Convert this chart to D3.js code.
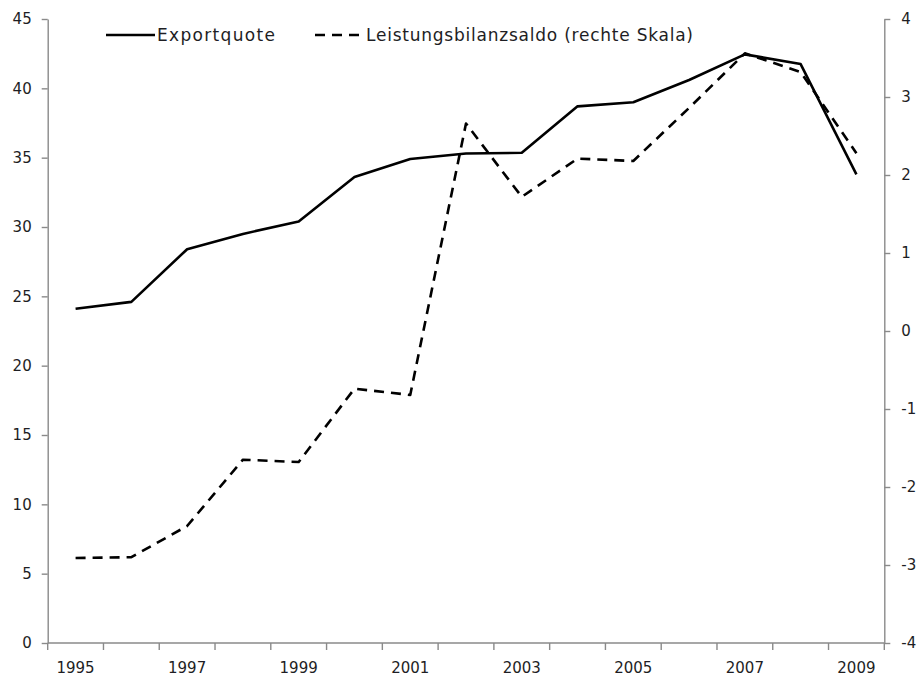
<!DOCTYPE html>
<meta charset="UTF-8">
<style>
body { margin: 0; background: #fff; }
svg text { font-family: "DejaVu Sans", sans-serif; fill: #1e1e24; }
.axis path, .axis line { stroke: #8a8a8a; stroke-width: 1.4px; }
.line { fill: none; stroke: #000; stroke-width: 2.6px; stroke-linejoin: round; }
</style>
<body>
<script src="https://d3js.org/d3.v7.min.js"></script>
<script>

// data
var years = [1995, 1996, 1997, 1998, 1999, 2000, 2001, 2002, 2003, 2004, 2005, 2006, 2007, 2008, 2009];
var exportquote = [24.1, 24.6, 28.4, 29.5, 30.4, 33.6, 34.9, 35.3, 35.35, 38.7, 39.0, 40.6, 42.45, 41.75, 33.8];
var saldo = [-2.91, -2.9, -2.5, -1.65, -1.68, -0.74, -0.82, 2.66, 1.72, 2.21, 2.18, 2.86, 3.56, 3.32, 2.28];
var leftTicks = [0, 5, 10, 15, 20, 25, 30, 35, 40, 45];
var rightTicks = [-4, -3, -2, -1, 0, 1, 2, 3, 4];
var labels = ["Exportquote", "Leistungsbilanzsaldo (rechte Skala)"];

var width = 919, height = 680;
var m = {left: 47.7, right: 884.3, top: 19, bottom: 643};

var svg = d3.select("body").append("svg")
    .attr("width", width)
    .attr("height", height);

var x = d3.scaleBand().domain(years).range([m.left, m.right]).padding(0);
var yL = d3.scaleLinear().domain([0, 45]).range([m.bottom, m.top]);
var yR = d3.scaleLinear().domain([-4, 4]).range([m.bottom, m.top]);

function cx(yr) { return x(yr) + x.bandwidth() / 2; }

// left axis
svg.append("g")
    .attr("class", "axis")
    .attr("transform", "translate(" + m.left + ",0)")
    .call(d3.axisLeft(yL).tickValues(leftTicks).tickSize(6).tickSizeOuter(0).tickPadding(10))
    .selectAll("text").style("font-size", "15px").attr("fill", "#1e1e24");

// right axis
svg.append("g")
    .attr("class", "axis")
    .attr("transform", "translate(" + m.right + ",0)")
    .call(d3.axisRight(yR).tickValues(rightTicks).tickSize(6).tickSizeOuter(0).tickPadding(11)
        .tickFormat(function(d) { return d < 0 ? "-" + Math.abs(d) : d; }))
    .selectAll("text").style("font-size", "15px").attr("fill", "#1e1e24");

// bottom axis: ticks at the category boundaries, labels on odd years
var xAxis = svg.append("g").attr("class", "axis");
xAxis.append("line")
    .attr("x1", m.left).attr("x2", m.right)
    .attr("y1", m.bottom).attr("y2", m.bottom);
var bounds = years.map(function(d) { return x(d); }).concat([m.right]);
xAxis.selectAll("line.tick")
    .data(bounds)
  .enter().append("line")
    .attr("class", "tick")
    .attr("x1", function(d) { return d; }).attr("x2", function(d) { return d; })
    .attr("y1", m.bottom).attr("y2", m.bottom + 7);
xAxis.selectAll("text")
    .data(years.filter(function(d) { return d % 2 == 1; }))
  .enter().append("text")
    .attr("x", cx)
    .attr("y", 673)
    .attr("text-anchor", "middle")
    .style("font-size", "15px")
    .text(function(d) { return d; });

// lines
var lineL = d3.line()
    .x(function(d, i) { return cx(years[i]); })
    .y(function(d) { return yL(d); });
var lineR = d3.line()
    .x(function(d, i) { return cx(years[i]); })
    .y(function(d) { return yR(d); });

svg.append("path")
    .datum(saldo)
    .attr("class", "line")
    .attr("stroke-dasharray", "10,7")
    .attr("d", lineR);

svg.append("path")
    .datum(exportquote)
    .attr("class", "line")
    .attr("d", lineL);

// legend
var legend = svg.append("g");
legend.append("line")
    .attr("x1", 106).attr("x2", 155).attr("y1", 35).attr("y2", 35)
    .attr("stroke", "#000").attr("stroke-width", 2.6);
legend.append("text")
    .attr("x", 157).attr("y", 41)
    .style("font-size", "17px")
    .attr("textLength", 118)
    .text(labels[0]);
legend.append("line")
    .attr("x1", 315).attr("x2", 363).attr("y1", 35).attr("y2", 35)
    .attr("stroke", "#000").attr("stroke-width", 2.6)
    .attr("stroke-dasharray", "10,7");
legend.append("text")
    .attr("x", 366).attr("y", 41)
    .style("font-size", "17px")
    .attr("textLength", 327)
    .text(labels[1]);

</script>
</body>
